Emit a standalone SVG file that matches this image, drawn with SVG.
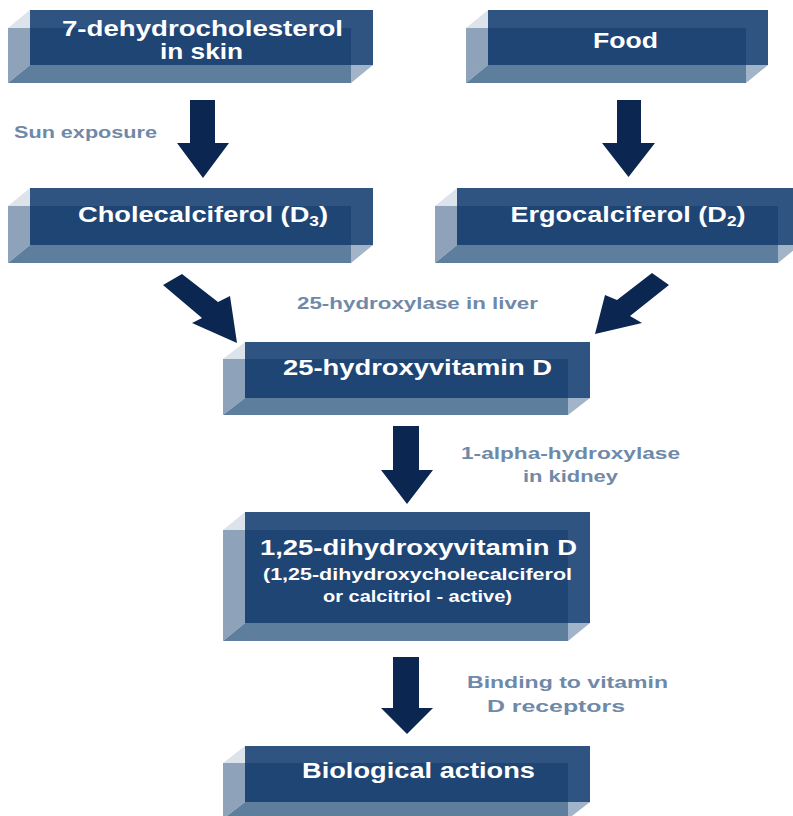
<svg xmlns="http://www.w3.org/2000/svg" width="793" height="816" viewBox="0 0 793 816">
<style>
.top{fill:#2f5482}
.tl{fill:#dde3ea}
.lf{fill:#8ea3ba}
.ov{fill:#1f4575}
.rt{fill:#2f5482}
.bt{fill:#5e7e9e}
.br{fill:#a2b4c7}
.t{font-family:"Liberation Sans",Arial,sans-serif;font-weight:bold;fill:#ffffff;font-size:22px;text-anchor:middle}
.s{font-size:17px}
.lb{font-family:"Liberation Sans",Arial,sans-serif;font-weight:bold;fill:#6f89a8;font-size:16px;text-anchor:middle}
.ar{fill:#0b2650}
</style>
<rect width="793" height="816" fill="#ffffff"/>
<g id="n1">
<rect class="top" x="30" y="10" width="343" height="18"/>
<polygon class="tl" points="30,10 8,28 30,28"/>
<polygon class="lf" points="8,28 30,28 30,65 8,83"/>
<rect class="ov" x="30" y="28" width="321" height="37"/>
<rect class="rt" x="351" y="28" width="22" height="37"/>
<polygon class="bt" points="30,65 351,65 351,83 8,83"/>
<polygon class="br" points="351,65 373,65 351,83"/>
<text class="t" x="202.5" y="36" textLength="281" lengthAdjust="spacingAndGlyphs">7-dehydrocholesterol</text>
<text class="t" x="201.5" y="59" textLength="83" lengthAdjust="spacingAndGlyphs">in skin</text>
</g>
<g id="n2">
<rect class="top" x="488" y="10" width="280" height="18"/>
<polygon class="tl" points="488,10 466,28 488,28"/>
<polygon class="lf" points="466,28 488,28 488,65 466,83"/>
<rect class="ov" x="488" y="28" width="258" height="37"/>
<rect class="rt" x="746" y="28" width="22" height="37"/>
<polygon class="bt" points="488,65 746,65 746,83 466,83"/>
<polygon class="br" points="746,65 768,65 746,83"/>
<text class="t" x="625.5" y="48" textLength="65" lengthAdjust="spacingAndGlyphs">Food</text>
</g>
<g id="n3">
<rect class="top" x="30" y="188" width="343" height="18"/>
<polygon class="tl" points="30,188 8,206 30,206"/>
<polygon class="lf" points="8,206 30,206 30,245 8,263"/>
<rect class="ov" x="30" y="206" width="321" height="39"/>
<rect class="rt" x="351" y="206" width="22" height="39"/>
<polygon class="bt" points="30,245 351,245 351,263 8,263"/>
<polygon class="br" points="351,245 373,245 351,263"/>
<text class="t" x="203" y="222" textLength="250" lengthAdjust="spacingAndGlyphs">Cholecalciferol (D<tspan font-size="14" dy="4">3</tspan><tspan dy="-4">)</tspan></text>
</g>
<g id="n4">
<rect class="top" x="457" y="188" width="343" height="18"/>
<polygon class="tl" points="457,188 435,206 457,206"/>
<polygon class="lf" points="435,206 457,206 457,245 435,263"/>
<rect class="ov" x="457" y="206" width="321" height="39"/>
<rect class="rt" x="778" y="206" width="22" height="39"/>
<polygon class="bt" points="457,245 778,245 778,263 435,263"/>
<polygon class="br" points="778,245 800,245 778,263"/>
<text class="t" x="628" y="222" textLength="235" lengthAdjust="spacingAndGlyphs">Ergocalciferol (D<tspan font-size="14" dy="4">2</tspan><tspan dy="-4">)</tspan></text>
</g>
<g id="n5">
<rect class="top" x="245" y="342" width="345" height="17"/>
<polygon class="tl" points="245,342 223,359 245,359"/>
<polygon class="lf" points="223,359 245,359 245,398 223,415"/>
<rect class="ov" x="245" y="359" width="323" height="39"/>
<rect class="rt" x="568" y="359" width="22" height="39"/>
<polygon class="bt" points="245,398 568,398 568,415 223,415"/>
<polygon class="br" points="568,398 590,398 568,415"/>
<text class="t" x="417.5" y="375" textLength="269" lengthAdjust="spacingAndGlyphs">25-hydroxyvitamin D</text>
</g>
<g id="n6">
<rect class="top" x="245" y="512" width="345" height="18"/>
<polygon class="tl" points="245,512 223,530 245,530"/>
<polygon class="lf" points="223,530 245,530 245,623 223,641"/>
<rect class="ov" x="245" y="530" width="323" height="93"/>
<rect class="rt" x="568" y="530" width="22" height="93"/>
<polygon class="bt" points="245,623 568,623 568,641 223,641"/>
<polygon class="br" points="568,623 590,623 568,641"/>
<text class="t" x="418.5" y="555" textLength="317" lengthAdjust="spacingAndGlyphs">1,25-dihydroxyvitamin D</text>
<text class="t s" x="417.5" y="580" textLength="309" lengthAdjust="spacingAndGlyphs">(1,25-dihydroxycholecalciferol</text>
<text class="t s" x="417.5" y="602" textLength="189" lengthAdjust="spacingAndGlyphs">or calcitriol - active)</text>
</g>
<g id="n7">
<rect class="top" x="245" y="746" width="345" height="17"/>
<polygon class="tl" points="245,746 223,763 245,763"/>
<polygon class="lf" points="223,763 245,763 245,802 223,819"/>
<rect class="ov" x="245" y="763" width="323" height="39"/>
<rect class="rt" x="568" y="763" width="22" height="39"/>
<polygon class="bt" points="245,802 568,802 568,819 223,819"/>
<polygon class="br" points="568,802 590,802 568,819"/>
<text class="t" x="418.5" y="778" textLength="233" lengthAdjust="spacingAndGlyphs">Biological actions</text>
</g>
<g id="connectors">
<polygon class="ar" points="190,100 215,100 215,143 229,143 203,178 177,143 190,143"/>
<polygon class="ar" points="617,100 641,100 641,143 655,143 628.5,177 602,143 617,143"/>
<polygon class="ar" points="182,274 218,302 230,296 237,343 192,323 202,318 163,285"/>
<polygon class="ar" points="652,273 617,300 605,295 595,334 642,323 630,316 669,285"/>
<polygon class="ar" points="393,426 419,426 419,470 433,470 407,504 381,470 393,470"/>
<polygon class="ar" points="393,657 419,657 419,708 433,708 407,734 381,708 393,708"/>
</g>
<g id="labels">
<text class="lb" x="85.5" y="138" textLength="143" lengthAdjust="spacingAndGlyphs">Sun exposure</text>
<text class="lb" x="417.5" y="309" textLength="241" lengthAdjust="spacingAndGlyphs">25-hydroxylase in liver</text>
<text class="lb" x="570.5" y="459" textLength="219" lengthAdjust="spacingAndGlyphs">1-alpha-hydroxylase</text>
<text class="lb" x="570.5" y="482" textLength="95" lengthAdjust="spacingAndGlyphs">in kidney</text>
<text class="lb" x="567.5" y="688" textLength="201" lengthAdjust="spacingAndGlyphs">Binding to vitamin</text>
<text class="lb" x="556" y="712" textLength="138" lengthAdjust="spacingAndGlyphs">D receptors</text>
</g>
</svg>
